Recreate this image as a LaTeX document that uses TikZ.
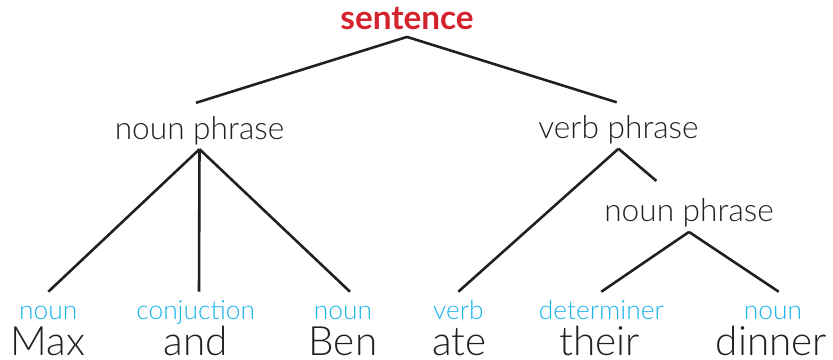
\documentclass[tikz,border=0pt]{standalone}
\usepackage{fontspec}
\setmainfont{Lato Light}[BoldFont=Lato Bold]
\usetikzlibrary{calc}

\definecolor{treered}{HTML}{D3232E}
\definecolor{tagblue}{HTML}{1BB4EC}
\definecolor{inkgrey}{HTML}{231F20}

\tikzset{
  root/.style={font=\fontsize{28.4}{30}\selectfont\bfseries, text=treered, anchor=base, inner sep=0pt, text height=20pt, text depth=6.3pt},
  phrase/.style={font=\fontsize{27}{30}\selectfont, text=inkgrey, anchor=base, inner sep=0pt, text height=30.7pt, text depth=8.5pt},
  tag/.style={font=\fontsize{22.5}{24}\selectfont, text=tagblue, anchor=base, inner sep=0pt, text height=23.5pt, text depth=5pt},
  word/.style={font=\fontsize{34.5}{38}\selectfont, text=inkgrey, anchor=base, inner sep=0pt},
  branch/.style={draw=inkgrey, line width=2.2pt}
}

\begin{document}
\begin{tikzpicture}[x=0.03cm, y=-0.03cm]
\useasboundingbox (0,0) rectangle (833,359);

% phrase levels
\node[root] (s) at (407,29.3) {sentence};
\node[phrase] (np) at (199.5,139) {noun phrase};
\node[phrase] (vp) at (618.5,138.5) {verb phrase};
\node[phrase] (np2) at (689,221.7) {noun phrase};

% word classes
\node[tag] (n1) at (48.3,319.5) {noun};
\node[tag] (c1) at (195.7,319.5) {conjuction};
\node[tag] (n2) at (343,319.5) {noun};
\node[tag] (v1) at (458.3,319.5) {verb};
\node[tag] (d1) at (601.3,319.5) {determiner};
\node[tag] (n3) at (773,319.5) {noun};

% the words themselves
\node[word] (w1) at (48,355) {Max};
\node[word] (w2) at (195.8,355) {and};
\node[word] (w3) at (343,355) {Ben};
\node[word] (w4) at (459.7,355) {ate};
\node[word] (w5) at (600,355) {their};
\node[word] (w6) at (771.5,355) {dinner};

% branches
\draw[branch] (s.south) -- ($(np.north)+(-3.5,0)$);
\draw[branch] (s.south) -- ($(vp.north)+(-1.8,0)$);

\draw[branch] (np.south) -- (n1.north);
\draw[branch] (np.south) -- ($(c1.north)+(3.3,0)$);
\draw[branch] (np.south) -- ($(n2.north)+(7,0)$);

\draw[branch] (vp.south) -- (v1.north);
\draw[branch, shorten >=6pt] (vp.south) -- (np2);

\draw[branch] (np2.south) -- (d1.north);
\draw[branch] (np2.south) -- ($(n3.north)+(5.7,0)$);
\end{tikzpicture}
\end{document}
